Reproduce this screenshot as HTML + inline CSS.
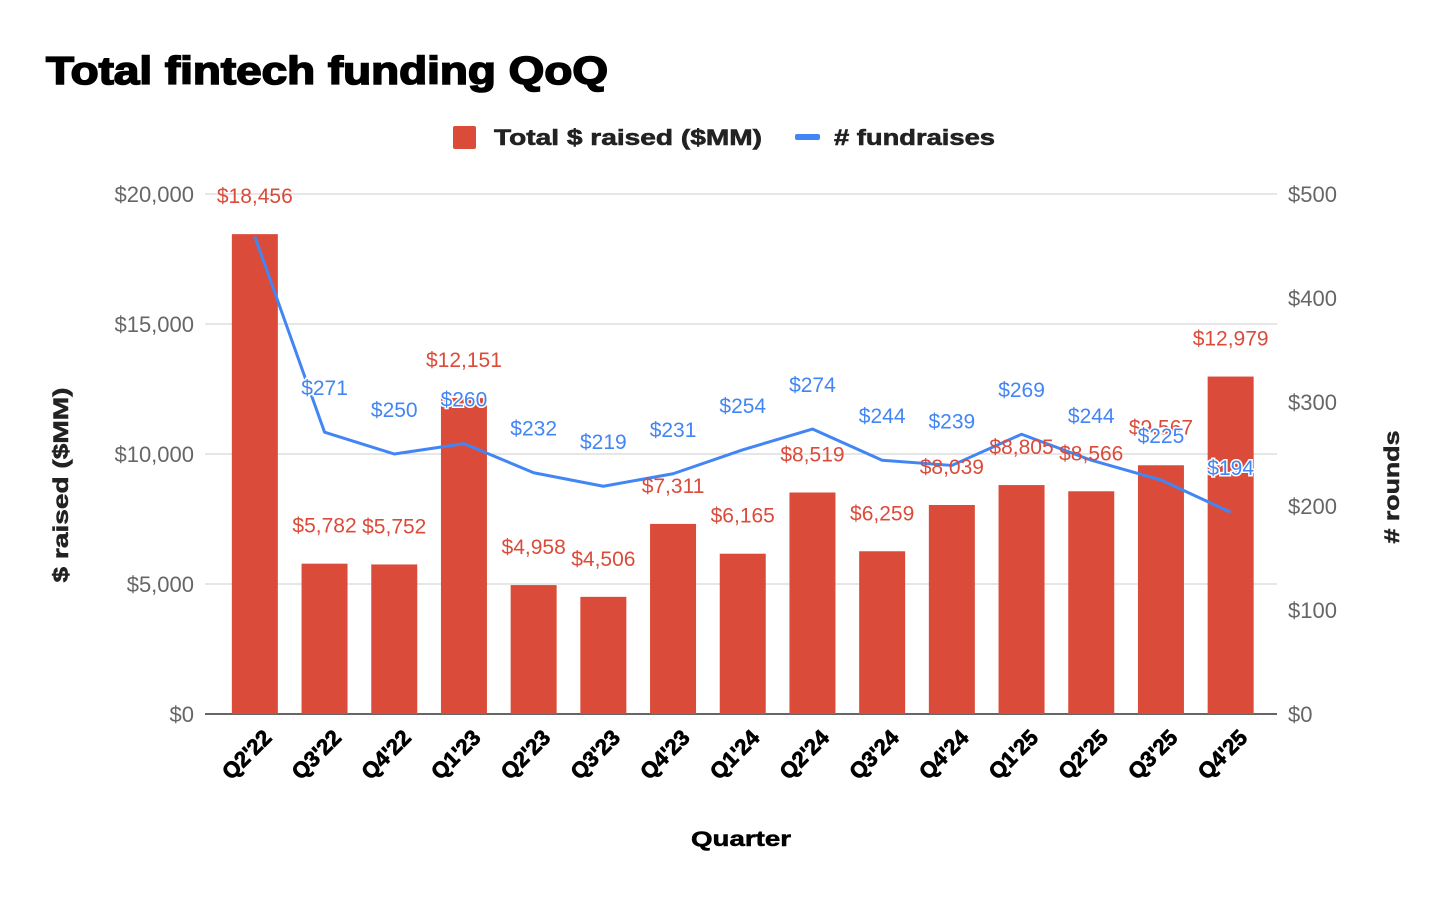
<!DOCTYPE html>
<html><head><meta charset="utf-8"><style>
body{margin:0;background:#fff;}
svg text{font-family:"Liberation Sans",Arial,sans-serif;}
</style></head><body>
<svg id="chart" width="1450" height="898" xmlns="http://www.w3.org/2000/svg">
<text x="46" y="84" font-size="39" font-weight="900" fill="#000" stroke="#000" stroke-width="1.6" textLength="562" lengthAdjust="spacingAndGlyphs">Total fintech funding QoQ</text>
<g>
<rect x="453" y="126" width="23" height="23" rx="2" fill="#db4b3a"/>
<text x="494" y="145" font-size="22" font-weight="bold" fill="#222" stroke="#222" stroke-width="0.6" textLength="268" lengthAdjust="spacingAndGlyphs">Total $ raised ($MM)</text>
<rect x="795" y="134" width="25" height="6" rx="2" fill="#4285f4"/>
<text x="834" y="145" font-size="22" font-weight="bold" fill="#222" stroke="#222" stroke-width="0.6" textLength="161" lengthAdjust="spacingAndGlyphs"># fundraises</text>
</g>
<g id="grid"></g><g id="bars"></g><g id="line"></g><g id="labels"></g><g id="axes"></g>
<text transform="translate(68,485) rotate(-90)" text-anchor="middle" font-size="21" font-weight="bold" fill="#222" stroke="#222" stroke-width="0.5" textLength="195" lengthAdjust="spacingAndGlyphs">$ raised ($MM)</text>
<text transform="translate(1399,487) rotate(-90)" text-anchor="middle" font-size="21" font-weight="bold" fill="#222" stroke="#222" stroke-width="0.5" textLength="113" lengthAdjust="spacingAndGlyphs"># rounds</text>
<text x="691" y="846" font-size="21" font-weight="bold" fill="#000" stroke="#000" stroke-width="0.5" textLength="100" lengthAdjust="spacingAndGlyphs">Quarter</text>
</svg>
<script>
const categories=["Q2'22","Q3'22","Q4'22","Q1'23","Q2'23","Q3'23","Q4'23","Q1'24","Q2'24","Q3'24","Q4'24","Q1'25","Q2'25","Q3'25","Q4'25"];
const raised=[18456,5782,5752,12151,4958,4506,7311,6165,8519,6259,8039,8805,8566,9567,12979];
const fundraises=[459,271,250,260,232,219,231,254,274,244,239,269,244,225,194];
const leftTicks=[0,5000,10000,15000,20000];
const rightTicks=[0,100,200,300,400,500];
const NS="http://www.w3.org/2000/svg";
function mk(t,a,p,txt){const e=document.createElementNS(NS,t);for(const k in a)e.setAttribute(k,a[k]);if(txt!=null)e.textContent=txt;p.appendChild(e);return e;}
const x0=220,step=69.7,bw=46,yB=714,yT=194;
const xc=i=>x0+step*(i+0.5);
const yL=v=>yB-(v/20000)*(yB-yT);
const yR=v=>yB-(v/500)*(yB-yT);
const fmt=v=>"$"+v.toLocaleString("en-US");
const grid=document.getElementById('grid'),bars=document.getElementById('bars'),line=document.getElementById('line'),labels=document.getElementById('labels'),axes=document.getElementById('axes');
leftTicks.forEach(v=>{
 const g=mk('line',{x1:205,x2:1277,y1:yL(v),y2:yL(v),stroke:v===0?'#333':'#ccc','stroke-width':v===0?1.5:1},grid);
 
 
 const t=mk('text',{x:194,y:yL(v)+8,'text-anchor':'end','font-size':22,fill:'#666'},axes,fmt(v));
 
 
});
rightTicks.forEach(v=>{
 const t=mk('text',{x:1288,y:yR(v)+8,'font-size':22,fill:'#666'},axes,fmt(v));
 
 
});
categories.forEach((c,i)=>{
 const r=mk('rect',{x:xc(i)-bw/2,y:yL(raised[i]),width:bw,height:yB-yL(raised[i]),fill:'#db4b3a'},bars);
 
 
 const t=mk('text',{transform:`translate(${xc(i)+18},${739}) rotate(-45)`,'text-anchor':'end','font-size':22,'font-weight':'bold',fill:'#000',stroke:'#000','stroke-width':0.8},axes,c);
 
 
 const bl=mk('text',{x:xc(i),y:yL(raised[i])-31,'text-anchor':'middle','font-size':21,fill:'#db4b3a'},labels,fmt(raised[i]));
 
 
});
const pts=fundraises.map((v,i)=>xc(i)+','+yR(v)).join(' ');
const pl=mk('polyline',{points:pts,fill:'none',stroke:'#4285f4','stroke-width':3,'stroke-linejoin':'round'},line);


fundraises.forEach((v,i)=>{
 if(i===0)return;
 const t=mk('text',{x:xc(i),y:yR(v)-37,'text-anchor':'middle','font-size':21,fill:'#4285f4',stroke:'#fff','stroke-width':3,'paint-order':'stroke'},labels,fmt(v));
 
 
});
</script>
</body></html>
